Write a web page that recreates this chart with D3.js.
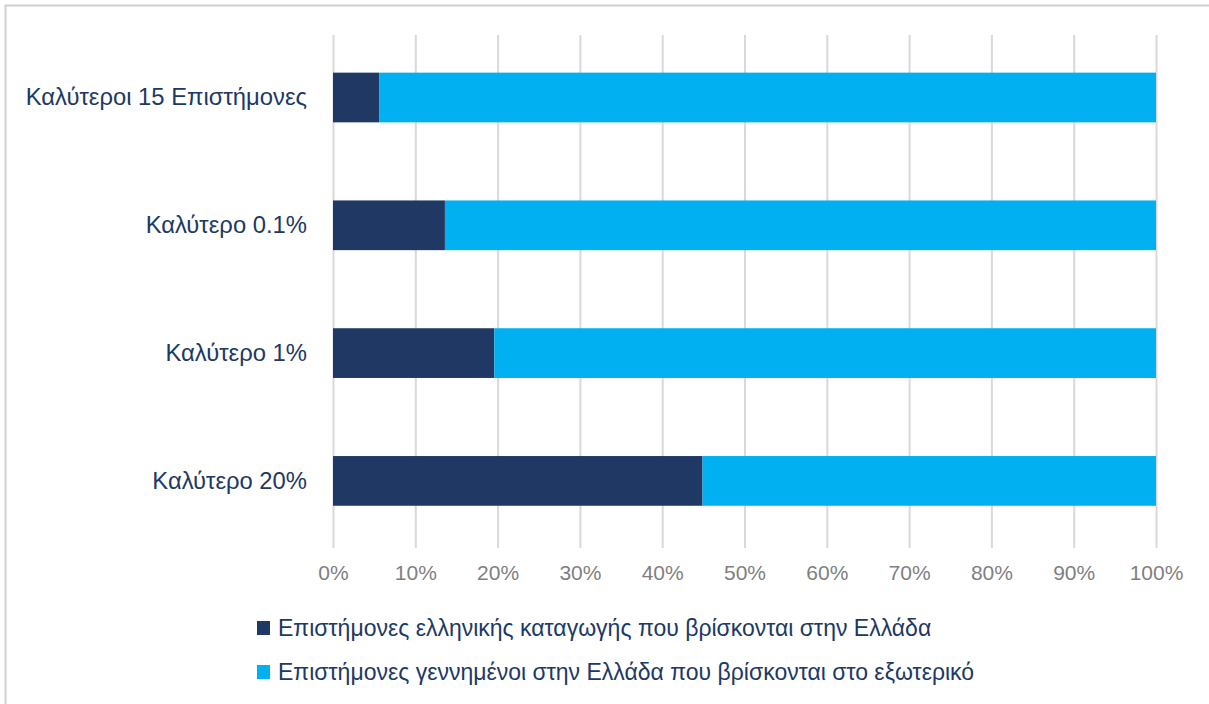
<!DOCTYPE html>
<html>
<head>
<meta charset="utf-8">
<script src="https://cdn.jsdelivr.net/npm/d3@7"></script>
<style>
  html, body { margin: 0; padding: 0; background: #ffffff; }
  svg { display: block; }
</style>
</head>
<body>
<div id="chart"></div>
<script>
const categories = ["Καλύτεροι 15 Επιστήμονες", "Καλύτερο 0.1%", "Καλύτερο 1%", "Καλύτερο 20%"];
const seriesNames = [
  "Επιστήμονες ελληνικής καταγωγής που βρίσκονται στην Ελλάδα",
  "Επιστήμονες γεννημένοι στην Ελλάδα που βρίσκονται στο εξωτερικό"
];
const inGreece = [5.6, 13.6, 19.6, 44.9];
const abroad = [94.4, 86.4, 80.4, 55.1];
const tickValues = [0, 10, 20, 30, 40, 50, 60, 70, 80, 90, 100];
const colors = ["#203864", "#00b0f0"];

const W = 1209, H = 704;
const font = "'Liberation Sans', Arial, sans-serif";
const svg = d3.select("#chart").append("svg").attr("width", W).attr("height", H);
svg.append("rect").attr("width", W).attr("height", H).attr("fill", "#fff");

// frame (cropped)
svg.append("path").attr("d", `M5.5,${H} V5.5 H${W}`).attr("fill", "none")
  .attr("stroke", "#d0d0d0").attr("stroke-width", 2);

const plotTop = 35, plotBottom = 548;
const x = d3.scaleLinear().domain([0, 100]).range([333, 1156]);
const y = d3.scaleBand().domain(categories).range([33.6, 544.8]).paddingInner(0.611).paddingOuter(0.3055);

// grid + tick labels
const xAxis = d3.axisBottom(x).tickValues(tickValues).tickFormat(d => d + "%")
  .tickSizeInner(-(plotBottom - plotTop)).tickSizeOuter(0).tickPadding(17);
const gx = svg.append("g").attr("transform", `translate(0,${plotBottom})`).call(xAxis);
gx.select(".domain").remove();
gx.selectAll(".tick line").attr("stroke", "#d9d9d9").attr("stroke-width", 2);
gx.selectAll(".tick text").attr("fill", "#7f7f7f").style("font-family", font).style("font-size", "21px");

// stacked bars
const stackData = categories.map((c, i) => ({ cat: c, a: inGreece[i], b: abroad[i] }));
const stack = d3.stack().keys(["a", "b"])(stackData);
stack.forEach((layer, k) => {
  svg.append("g").selectAll("rect").data(layer).join("rect")
    .attr("x", d => x(d[0]))
    .attr("width", d => x(d[1]) - x(d[0]))
    .attr("y", d => y(d.data.cat))
    .attr("height", y.bandwidth())
    .attr("fill", colors[k]);
});

// category axis
const yAxis = d3.axisLeft(y).tickSize(0).tickPadding(26);
const gy = svg.append("g").attr("transform", `translate(333,0)`).call(yAxis);
gy.select(".domain").remove();
gy.selectAll(".tick text").attr("fill", "#203864").style("font-family", font).style("font-size", "23.8px");

// legend
const legendY = [628, 672];
const lg = svg.append("g");
seriesNames.forEach((name, i) => {
  lg.append("rect").attr("x", 257).attr("y", legendY[i] - 7).attr("width", 13).attr("height", 14).attr("fill", colors[i]);
  lg.append("text").attr("x", 278).attr("y", legendY[i]).attr("dy", "0.35em")
    .attr("fill", "#203864").style("font-family", font).style("font-size", "23px").text(name);
});
</script>
</body>
</html>
